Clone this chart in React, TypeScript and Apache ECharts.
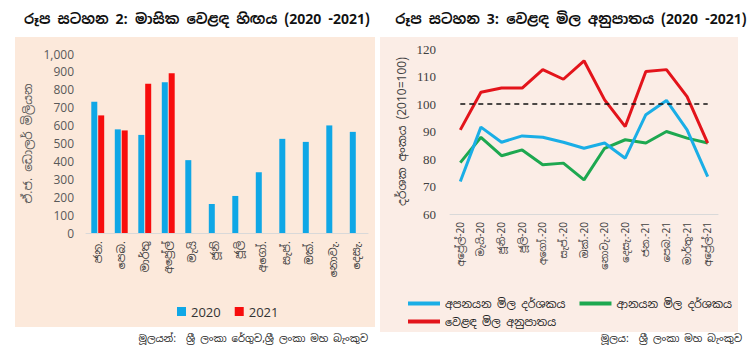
import React, { useEffect, useRef } from "react";
import * as echarts from "echarts";

const months = ["ජන.", "පෙබ.", "මාර්තු", "අප්‍රේල්", "මැයි", "ජූනි", "ජූලි", "අගෝ.", "සැප්.", "ඔක්.", "නොවැ.", "දෙසැ."];
const deficit2020 = [733, 579, 548, 842, 407, 162, 207, 340, 526, 509, 601, 565];
const deficit2021 = [657, 573, 834, 892, null, null, null, null, null, null, null, null];

const periods = ["අප්‍රේල්-20", "මැයි-20", "ජූනි-20", "ජූලි-20", "අගෝ.-20", "සැප්.-20", "ඔක්.-20", "නොවැ.-20", "දෙසැ.-20", "ජන.-21", "පෙබ.-21", "මාර්තු-21", "අප්‍රේල්-21"];
const exportPrice = [71.8, 91.6, 86.1, 88.4, 87.9, 86.1, 83.9, 85.8, 80.3, 96.1, 101.3, 90.6, 73.6];
const importPrice = [78.7, 87.9, 81.2, 83.3, 77.9, 78.5, 72.4, 83.9, 87.0, 85.8, 90.0, 87.6, 85.8];
const termsOfTrade = [90.6, 104.3, 105.8, 105.8, 112.5, 109.0, 115.7, 101.5, 91.8, 111.8, 112.5, 102.7, 85.8];
const baseLevel = 100;

const SIN = "'Noto Sans Sinhala', 'Iskoola Pota', 'Noto Sans', sans-serif";

export default function App() {
  const ref = useRef<HTMLDivElement>(null);
  useEffect(() => {
    if (!ref.current) return;
    const chart = echarts.init(ref.current, undefined, { renderer: "svg" });
    chart.setOption({
      animation: false,
      backgroundColor: "#ffffff",
      textStyle: { fontFamily: SIN },
      graphic: [
        { type: "rect", shape: { x: 15, y: 37, width: 360, height: 290 }, style: { fill: "#FCE9DB" }, z: -10 },
        { type: "rect", shape: { x: 380, y: 37, width: 358, height: 295 }, style: { fill: "#FBEDE6" }, z: -10 },
        { type: "text", right: 382, top: 333, style: { text: "මූලයන්:  ශ්‍රී ලංකා රේගුව,ශ්‍රී ලංකා මහ බැංකුව", fontSize: 10, fill: "#222", fontFamily: SIN } },
        { type: "text", right: 8, top: 333, style: { text: "මූලය:  ශ්‍රී ලංකා මහ බැංකුව", fontSize: 10, fill: "#222", fontFamily: SIN } },
      ],
      title: [
        { text: "රූප සටහන 2: මාසික වෙළඳ හිඟය (2020 -2021)", left: 192, top: 7, textAlign: "center", textStyle: { fontSize: 14, fontWeight: "bold", color: "#111", fontFamily: SIN } },
        { text: "රූප සටහන 3: වෙළඳ මිල අනුපාතය (2020 -2021)", left: 566, top: 7, textAlign: "center", textStyle: { fontSize: 14, fontWeight: "bold", color: "#111", fontFamily: SIN } },
      ],
      legend: [
        {
          data: ["2020", "2021"], left: 172, top: 300, icon: "rect", itemWidth: 9, itemHeight: 9, itemGap: 14,
          textStyle: { fontSize: 13, color: "#333", fontFamily: "'Open Sans', sans-serif" },
        },
        {
          data: ["අපනයන මිල දර්ශකය", "ආනයන මිල දර්ශකය"], left: 403, top: 293, width: 345, icon: "rect", itemWidth: 32, itemHeight: 4, itemGap: 14,
          textStyle: { fontSize: 11, color: "#222", fontFamily: SIN },
        },
        {
          data: ["වෙළඳ මිල අනුපාතය"], left: 403, top: 311, width: 345, icon: "rect", itemWidth: 32, itemHeight: 4,
          textStyle: { fontSize: 11, color: "#222", fontFamily: SIN },
        },
      ],
      grid: [
        { left: 86, right: 382, top: 54, bottom: 120 },
        { left: 450, right: 32, top: 49, bottom: 139 },
      ],
      xAxis: [
        {
          type: "category", gridIndex: 0, data: months,
          axisLine: { lineStyle: { color: "#D9D9D9" } }, axisTick: { show: false },
          axisLabel: { rotate: 90, fontSize: 11, color: "#404040", margin: 8, interval: 0, fontFamily: SIN },
        },
        {
          type: "category", gridIndex: 1, data: periods,
          axisLine: { lineStyle: { color: "#D9D9D9" } }, axisTick: { show: false },
          axisLabel: { rotate: 90, fontSize: 10, color: "#404040", margin: 8, interval: 0, fontFamily: SIN },
        },
      ],
      yAxis: [
        {
          type: "value", gridIndex: 0, min: 0, max: 1000, interval: 100,
          splitLine: { show: false }, axisLine: { show: false }, axisTick: { show: false },
          axisLabel: { fontSize: 12, color: "#595959", margin: 12, fontFamily: "'Open Sans', sans-serif", formatter: (v: number) => v.toLocaleString("en-US") },
          name: "ඒ.ජ. ඩොලර් මිලියන", nameLocation: "middle", nameGap: 52, nameRotate: 90,
          nameTextStyle: { fontSize: 12, color: "#595959", fontFamily: SIN },
        },
        {
          type: "value", gridIndex: 1, min: 60, max: 120, interval: 10,
          splitLine: { show: false }, axisLine: { show: false }, axisTick: { show: false },
          axisLabel: { fontSize: 13, color: "#404040", margin: 14, fontFamily: "'Liberation Serif', serif" },
          name: "දර්ශක අංකය (2010=100)", nameLocation: "middle", nameGap: 42, nameRotate: 90,
          nameTextStyle: { fontSize: 12, color: "#404040", fontFamily: SIN },
        },
      ],
      series: [
        { name: "2020", type: "bar", xAxisIndex: 0, yAxisIndex: 0, data: deficit2020, barWidth: 6, barGap: "15%", itemStyle: { color: "#0FA7E6" } },
        { name: "2021", type: "bar", xAxisIndex: 0, yAxisIndex: 0, data: deficit2021, barWidth: 6, barGap: "15%", itemStyle: { color: "#F70D0D" } },
        {
          name: "අපනයන මිල දර්ශකය", type: "line", xAxisIndex: 1, yAxisIndex: 1, data: exportPrice,
          symbol: "none", lineStyle: { width: 3, color: "#1AAEE6" }, itemStyle: { color: "#1AAEE6" }, z: 3,
        },
        {
          name: "ආනයන මිල දර්ශකය", type: "line", xAxisIndex: 1, yAxisIndex: 1, data: importPrice,
          symbol: "none", lineStyle: { width: 3, color: "#1DA850" }, itemStyle: { color: "#1DA850" }, z: 2,
        },
        {
          name: "වෙළඳ මිල අනුපාතය", type: "line", xAxisIndex: 1, yAxisIndex: 1, data: termsOfTrade,
          symbol: "none", lineStyle: { width: 3, color: "#E3141B" }, itemStyle: { color: "#E3141B" }, z: 4,
          markLine: {
            silent: true, symbol: "none", label: { show: false },
            lineStyle: { type: [5, 4], color: "#111", width: 1.5 },
            data: [[{ coord: [periods[0], baseLevel] }, { coord: [periods[periods.length - 1], baseLevel] }]],
          },
        },
      ],
    });
    return () => chart.dispose();
  }, []);
  return <div ref={ref} style={{ position: "fixed", left: 0, top: 0, width: 750, height: 353 }} />;
}
